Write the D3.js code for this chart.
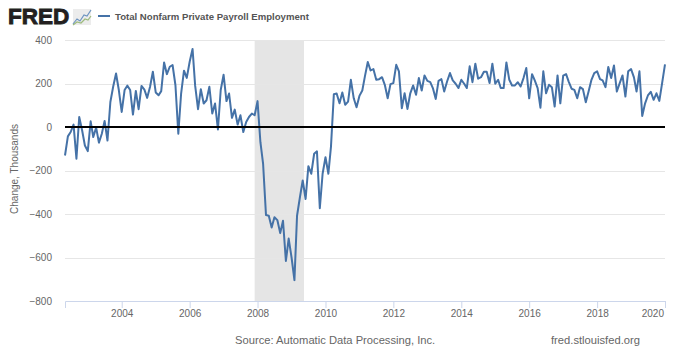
<!DOCTYPE html>
<html>
<head>
<meta charset="utf-8">
<title>Total Nonfarm Private Payroll Employment</title>
<script src="https://cdn.jsdelivr.net/npm/d3@7"></script>
<style>
	body { margin: 0; background: #fff; }
	svg { display: block; font-family: "Liberation Sans", Arial, sans-serif; }
	.xAxis text, .yAxis text { fill: #666; font-size: 10px; }
	.yAxis path, .yAxis line { display: none; }
	.xAxis path, .xAxis line { stroke: #ccd6eb; }
	.grid line { stroke: #e6e6e6; }
	.linePath { fill: none; stroke: #4572a7; stroke-width: 2; stroke-linejoin: round; }
</style>
</head>
<body>
<script>
var seriesName = 'Total Nonfarm Private Payroll Employment';
var yLabel = 'Change, Thousands';
var sourceText = 'Source: Automatic Data Processing, Inc.';
var siteText = 'fred.stlouisfed.org';

var firstMonth = '2002-05-01';
var lastMonth = '2020-01-01';
var recession = ['2007-12-01', '2009-05-15'];
var yTicks = [-800, -600, -400, -200, 0, 200, 400];
var xTickYears = [2004, 2006, 2008, 2010, 2012, 2014, 2016, 2018, 2020];

// thousands, monthly change
var values = [
	-131, -43, -23, 11, -146, 46, -15, -85, -111, 26, -46, -3,
	-72, -31, 28, -62, 115, 185, 246, 170, 69, 170, 190, 170,
	57, 166, 82, 189, 172, 134, 185, 254, 159, 146, 165, 297,
	243, 277, 285, 192, -31, 154, 259, 226, 300, 359, 190, 82,
	174, 108, 123, 185, 62, 108, -11, 170, 240, 119, 154, 42,
	80, 11, 54, -23, 23, 46, 62, 54, 119, -70, -170, -405,
	-408, -462, -415, -428, -488, -431, -616, -513, -600, -704, -408, -323,
	-246, -331, -180, -215, -123, -112, -373, -215, -139, -215, -90, 151,
	154, 109, 159, 102, 117, 217, 132, 91, 143, 168, 233, 299,
	260, 266, 217, 220, 229, 194, 132, 197, 202, 286, 256, 86,
	155, 83, 155, 191, 148, 225, 168, 237, 212, 206, 179, 129,
	212, 220, 163, 209, 248, 214, 199, 179, 217, 199, 179, 279,
	206, 291, 222, 229, 254, 254, 202, 291, 199, 217, 179, 179,
	297, 217, 191, 191, 206, 186, 225, 271, 132, 243, 214, 179,
	89, 256, 155, 194, 183, 94, 237, 109, 236, 243, 209, 176,
	171, 132, 183, 174, 114, 163, 217, 248, 256, 220, 214, 183,
	276, 225, 283, 163, 202, 237, 140, 256, 266, 228, 163, 256,
	51, 109, 145, 162, 125, 155, 120, 202, 288
];

function drawChart() {
	var width = 680;
	var height = 360;
	var left = 65;
	var right = 665;
	var top = 40;
	var bottom = 301;

	var parseDay = d3.utcParse('%Y-%m-%d');
	var months = d3.utcMonth.range(parseDay(firstMonth), d3.utcMonth.offset(parseDay(lastMonth), 1));

	var svg = d3.select('body').append('svg')
		.attr('width', width)
		.attr('height', height);

	var xScale = d3.scaleUtc()
		.domain([parseDay(firstMonth), parseDay(lastMonth)])
		.range([left, right]);

	var yScale = d3.scaleLinear()
		.domain([-800, 400])
		.range([bottom, top]);

	// recession band goes under the grid
	svg.append('rect')
		.attr('x', xScale(parseDay(recession[0])))
		.attr('y', top)
		.attr('width', xScale(parseDay(recession[1])) - xScale(parseDay(recession[0])))
		.attr('height', bottom - top)
		.attr('fill', '#e5e5e5');

	svg.append('g')
		.attr('class', 'grid')
		.selectAll('line')
		.data(yTicks.filter(function(d) { return d !== -800 && d !== 0; }))
		.enter()
		.append('line')
		.attr('x1', left)
		.attr('x2', right)
		.attr('y1', function(d) { return Math.round(yScale(d)) + 0.5; })
		.attr('y2', function(d) { return Math.round(yScale(d)) + 0.5; });

	var bottomAxis = d3.axisBottom(xScale)
		.tickValues(xTickYears.map(function(y) { return new Date(Date.UTC(y, 0, 1)); }))
		.tickFormat(d3.utcFormat('%Y'))
		.tickSizeOuter(0)
		.tickSize(7)
		.tickPadding(2);

	var xAxis = svg.append('g')
		.attr('class', 'xAxis')
		.attr('transform', 'translate(0,' + bottom + ')')
		.call(bottomAxis);

	xAxis.selectAll('text')
		.filter(function(d) { return d.getUTCFullYear() === 2020; })
		.attr('text-anchor', 'end')
		.attr('x', -1.5);

	var leftAxis = d3.axisLeft(yScale)
		.tickValues(yTicks)
		.tickFormat(d3.format('d'))
		.tickSize(0)
		.tickPadding(13);

	svg.append('g')
		.attr('class', 'yAxis')
		.attr('transform', 'translate(' + left + ',0)')
		.call(leftAxis);

	var pointsLine = d3.line()
		.x(function(d, i) { return xScale(months[i]); })
		.y(function(d) { return yScale(d); });

	svg.append('path')
		.attr('class', 'linePath')
		.attr('d', pointsLine(values));

	svg.append('line')
		.attr('x1', left)
		.attr('x2', right)
		.attr('y1', yScale(0))
		.attr('y2', yScale(0))
		.attr('stroke', '#000')
		.attr('stroke-width', 2);

	svg.append('text')
		.attr('transform', 'translate(18,169) rotate(-90)')
		.attr('text-anchor', 'middle')
		.attr('fill', '#666')
		.attr('font-size', '10px')
		.text(yLabel);

	drawHeader(svg);

	svg.append('text')
		.attr('x', 235)
		.attr('y', 344)
		.attr('fill', '#666')
		.attr('font-size', '11.2px')
		.text(sourceText);

	svg.append('text')
		.attr('x', 551)
		.attr('y', 344)
		.attr('fill', '#666')
		.attr('font-size', '11.2px')
		.text(siteText);
}

function drawHeader(svg) {
	svg.append('text')
		.attr('x', 8)
		.attr('y', 24)
		.attr('fill', '#231f20')
		.attr('stroke', '#231f20')
		.attr('stroke-width', 0.9)
		.attr('font-size', '22.5px')
		.attr('font-weight', 'bold')
		.text('FRED');

	var icon = svg.append('g').attr('transform', 'translate(73,8)');
	icon.append('rect')
		.attr('y', 1)
		.attr('width', 18)
		.attr('height', 16)
		.attr('fill', '#ececec');
	icon.append('path')
		.attr('d', 'M0,16 L4,11 L7,13 L11,7 L14,8 L18,2')
		.attr('fill', 'none')
		.attr('stroke', '#6d94c0')
		.attr('stroke-width', 1.2);
	icon.append('path')
		.attr('d', 'M0,17 L4,14 L8,15 L12,11 L15,12 L18,8')
		.attr('fill', 'none')
		.attr('stroke', '#9dbb7d')
		.attr('stroke-width', 1.2);

	svg.append('line')
		.attr('x1', 98)
		.attr('x2', 110)
		.attr('y1', 16)
		.attr('y2', 16)
		.attr('stroke', '#4572a7')
		.attr('stroke-width', 2);

	svg.append('text')
		.attr('x', 115)
		.attr('y', 20)
		.attr('fill', '#555')
		.attr('font-size', '9.6px')
		.attr('font-weight', 'bold')
		.text(seriesName);
}

window.onload = drawChart;
</script>
</body>
</html>
